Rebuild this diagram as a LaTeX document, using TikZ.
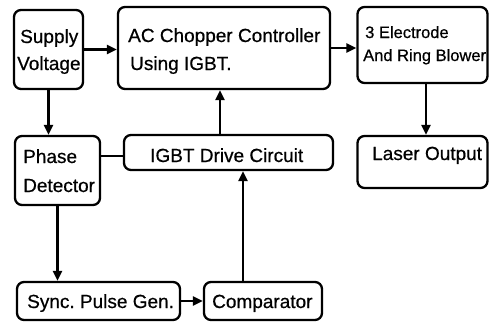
\documentclass[tikz,border=0pt]{standalone}
\usepackage{fontspec}
\setmainfont{Liberation Sans}[FakeBold=0.6]
\usetikzlibrary{arrows.meta}
\frenchspacing
\begin{document}
\begin{tikzpicture}[x=1pt,y=-1pt,
  blk/.style={draw=black,line width=2.3pt,rounded corners=7pt,inner sep=0pt},
  txt/.style={anchor=base west,inner sep=0pt,font=\fontsize{19}{19}\selectfont},
  stxt/.style={anchor=base west,inner sep=0pt,font=\fontsize{16.5}{16.5}\selectfont},
  arr/.style={line width=2.3pt,-{Triangle[length=10pt,width=9pt]}},
  ln/.style={line width=2.3pt}]
\useasboundingbox (0,0) rectangle (489,322);
% boxes
\node[blk,minimum width=69pt,minimum height=79pt] (sup) at (48.5,49.5) {};
\node[blk,minimum width=212pt,minimum height=82pt] (ac) at (224,48) {};
\node[blk,minimum width=130pt,minimum height=76pt] (el) at (422.5,45) {};
\node[blk,minimum width=130pt,minimum height=52pt] (las) at (422.5,162) {};
\node[blk,minimum width=85pt,minimum height=69pt] (ph) at (57.5,170.5) {};
\node[blk,minimum width=209pt,minimum height=35pt] (igbt) at (228.5,152.5) {};
\node[blk,minimum width=163pt,minimum height=38pt] (sync) at (98.5,301) {};
\node[blk,minimum width=118pt,minimum height=38pt] (comp) at (263,301) {};
% texts
\node[txt] (t1) at (20,43) {Supply};
\node[txt] (t2) at (17,70) {Voltage};
\node[txt] (t3) at (128,42) {AC Chopper Controller};
\node[txt] (t4) at (130,70) {Using IGBT.};
\node[stxt] (t5) at (365,38) {3 Electrode};
\node[stxt] (t6) at (363,61) {And Ring Blower};
\node[txt] (t7) at (372,160) {Laser Output};
\node[txt] (t8) at (23,163) {Phase};
\node[txt] (t9) at (23,192) {Detector};
\node[txt] (t10) at (150,162) {IGBT Drive Circuit};
\node[txt] (t11) at (27,308) {Sync.\ Pulse Gen.};
\node[txt] (t12) at (212,308) {Comparator};
% connectors
\coordinate (c1) at (243,282);
\coordinate (c2) at (220,135);
\coordinate (c3) at (110,156);
\coordinate (c4) at (426,83);
\draw[arr] (sup.east) -- (sup.east -| ac.west);
\draw[arr] (ac.east) -- (ac.east -| el.west);
\draw[arr] (sup.south) -- (sup.south |- ph.north);
\draw[arr] (ph.south) -- (ph.south |- sync.north);
\draw[arr] (sync.east) -- (sync.east -| comp.west);
\draw[arr] (c1 |- comp.north) -- (c1 |- igbt.south);
\draw[arr] (c2 |- igbt.north) -- (c2 |- ac.south);
\draw[ln] (c3 -| ph.east) -- (c3 -| igbt.west);
\draw[arr] (c4 |- el.south) -- (c4 |- las.north);
\end{tikzpicture}
\end{document}
